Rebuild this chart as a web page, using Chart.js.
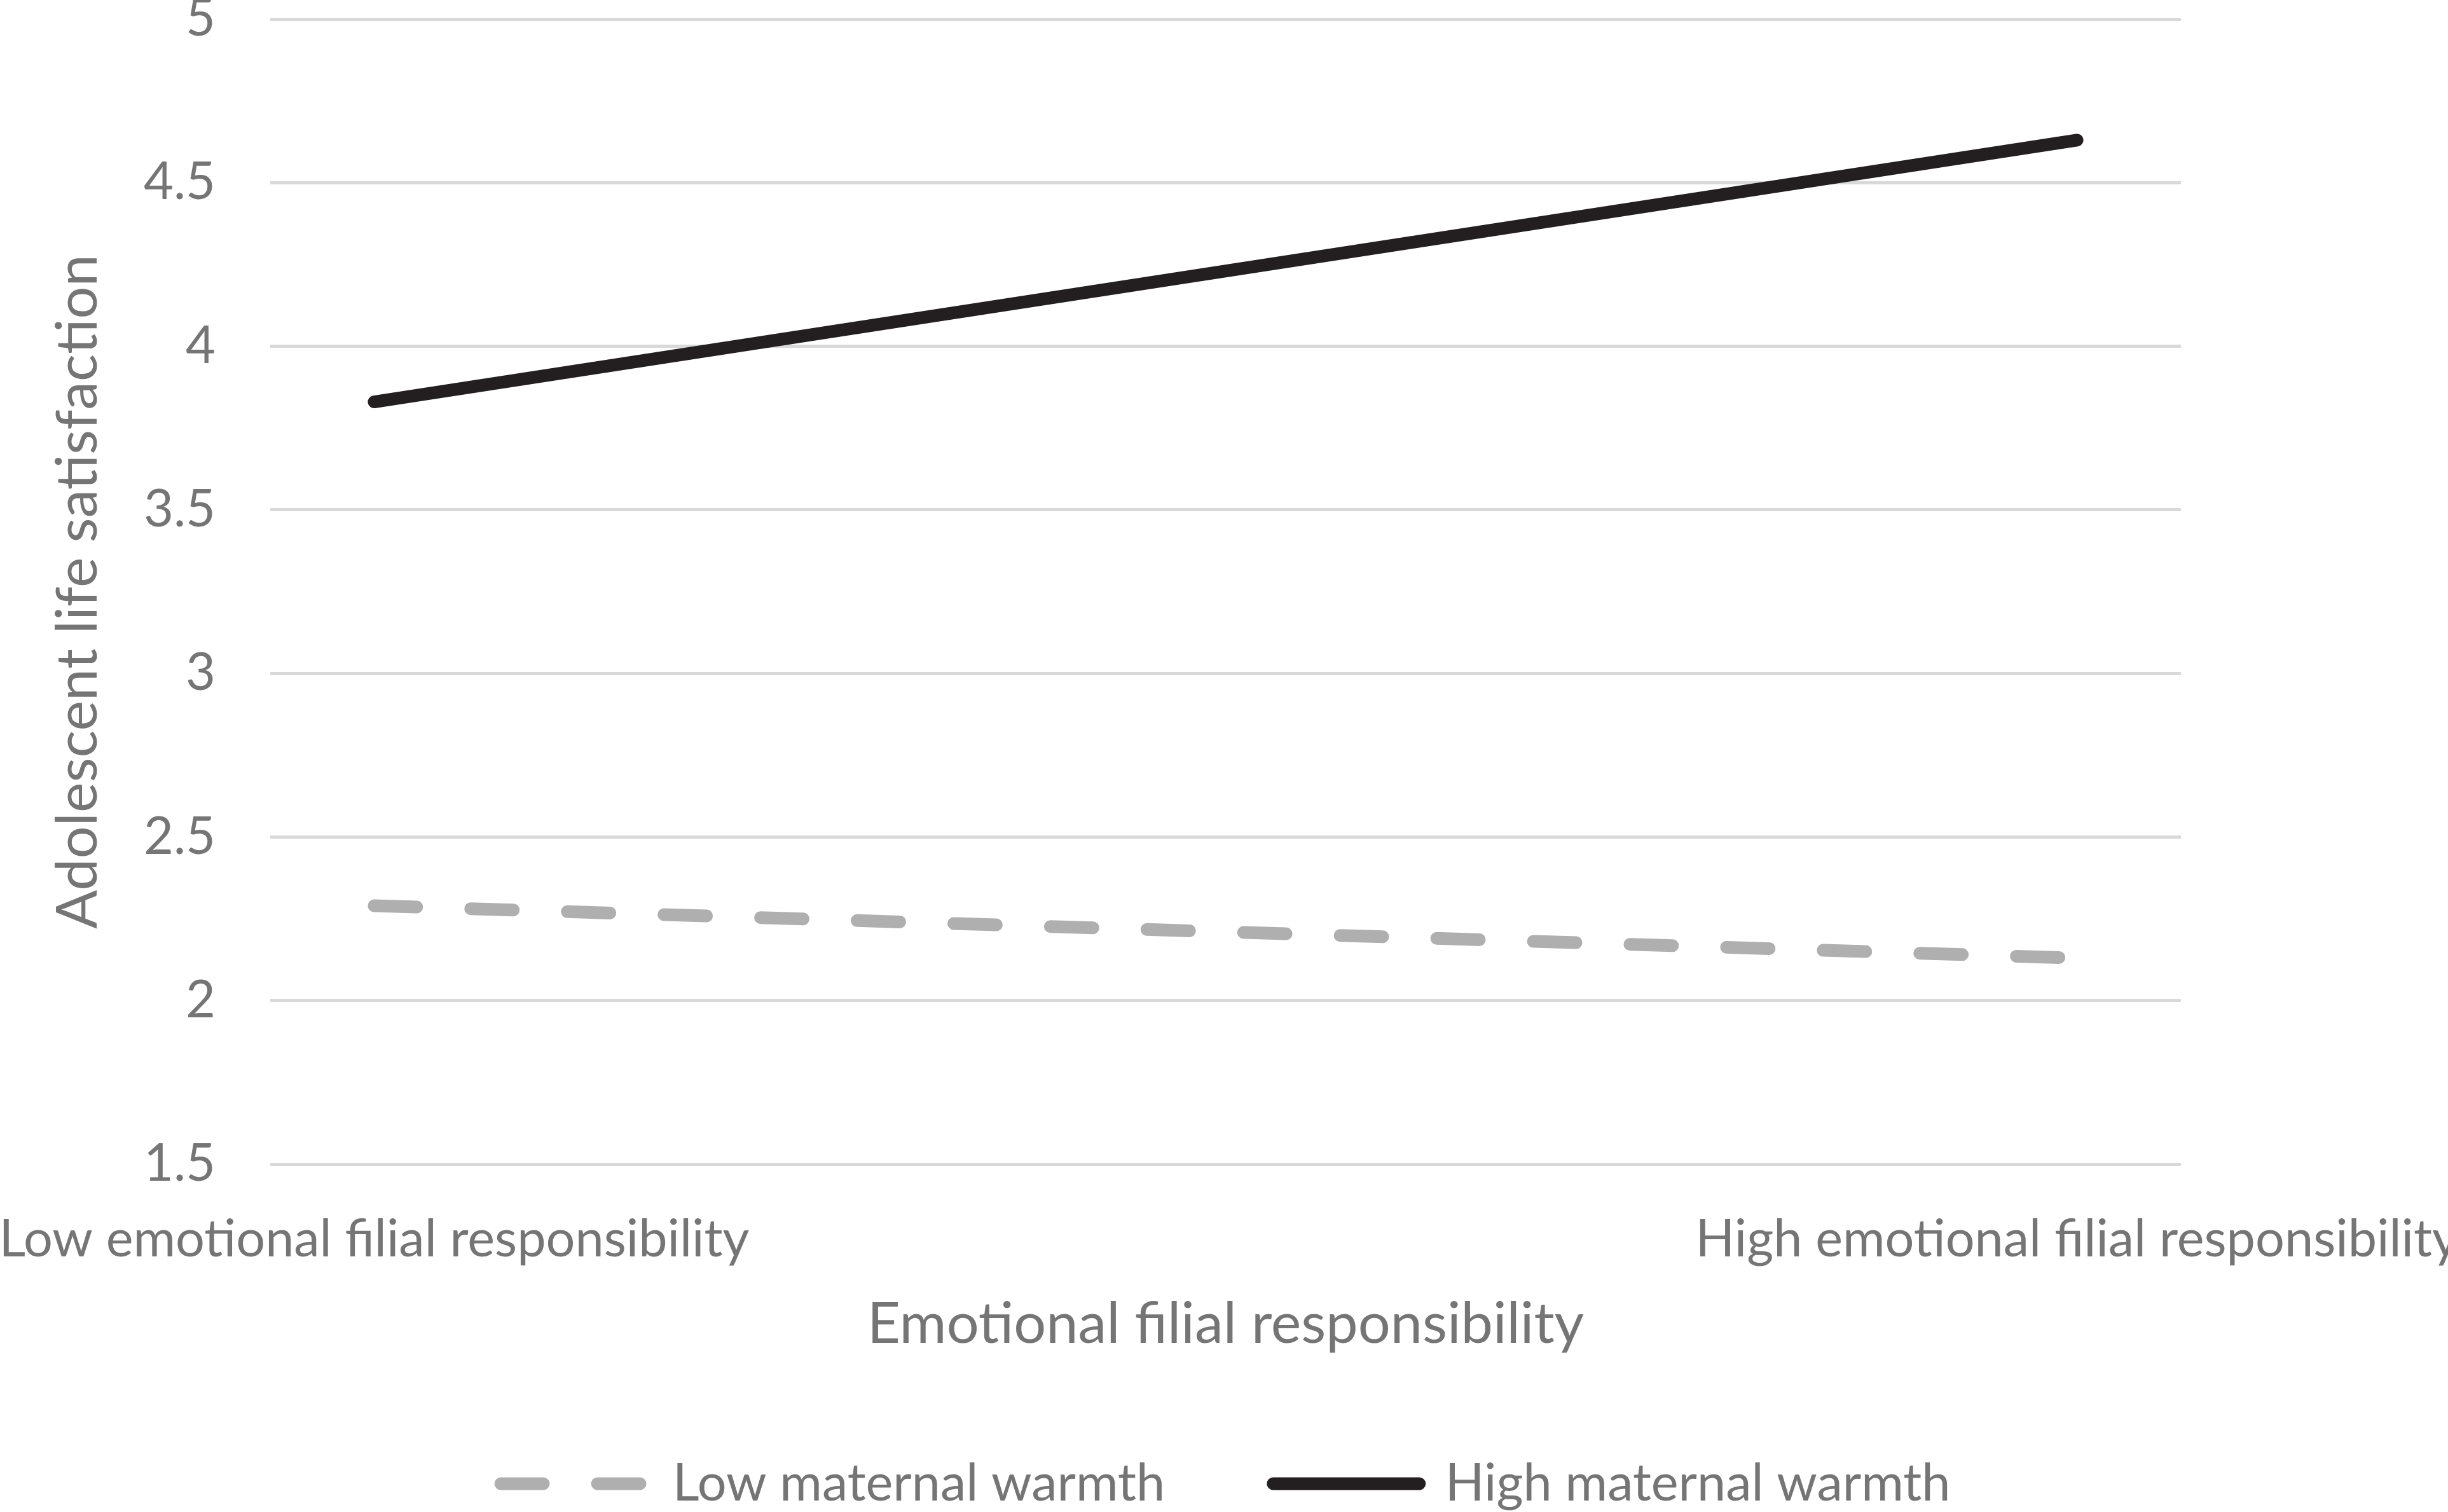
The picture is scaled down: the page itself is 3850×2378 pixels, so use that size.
<!DOCTYPE html>
<html>
<head>
<meta charset="utf-8">
<script src="https://cdn.jsdelivr.net/npm/chart.js@4"></script>
<style>
  html, body { margin: 0; padding: 0; background: #fff; overflow: hidden; }
  canvas { display: block; }
</style>
</head>
<body>
<canvas id="chart" width="3850" height="2378"></canvas>
<script>
// x positions 0 and 1 are the two levels of filial responsibility
let categories = ["Low emotional filial responsibility", "High emotional filial responsibility"];
let lowWarmth = [2.29, 2.13];
let highWarmth = [3.83, 4.63];
let yTicks = [1.5, 2, 2.5, 3, 3.5, 4, 4.5, 5];

let textGray = "#757575";

function toPoints(values) {
    return values.map((v, i) => ({ x: i, y: v }));
}

Chart.defaults.font.family = "Lato";
Chart.defaults.color = textGray;

let ctx = document.getElementById("chart").getContext("2d");

let chart = new Chart(ctx, {
    type: "line",
    data: {
        datasets: [
            {
                label: "Low maternal warmth",
                data: toPoints(lowWarmth),
                borderColor: "#afafaf",
                borderWidth: 20,
                borderDash: [67, 85],
                borderCapStyle: "round",
                pointRadius: 0,
                tension: 0
            },
            {
                label: "High maternal warmth",
                data: toPoints(highWarmth),
                borderColor: "#231f20",
                borderWidth: 20,
                borderCapStyle: "round",
                pointRadius: 0,
                tension: 0
            }
        ]
    },
    options: {
        responsive: false,
        devicePixelRatio: 1,
        animation: false,
        layout: {
            padding: { left: 0, right: 420, top: 30, bottom: -6 }
        },
        plugins: {
            tooltip: { enabled: false },
            legend: {
                position: "bottom",
                fullSize: false,
                labels: {
                    usePointStyle: true,
                    pointStyleWidth: 230,
                    boxHeight: 20,
                    padding: 170,
                    color: textGray,
                    font: { size: 81 },
                    generateLabels: (c) => c.data.datasets.map((ds, i) => ({
                        text: ds.label,
                        fillStyle: ds.borderColor,
                        strokeStyle: ds.borderColor,
                        fontColor: textGray,
                        lineWidth: ds.borderWidth,
                        lineDash: ds.borderDash || [],
                        lineCap: "round",
                        pointStyle: "line",
                        hidden: false,
                        datasetIndex: i
                    }))
                }
            }
        },
        scales: {
            x: {
                type: "linear",
                min: -0.061,
                max: 1.061,
                grid: { display: false },
                border: { display: false },
                ticks: {
                    autoSkip: false,
                    maxRotation: 0,
                    padding: 62,
                    color: textGray,
                    font: { size: 81 },
                    callback: (v) => categories[v]
                },
                afterBuildTicks: (scale) => {
                    scale.ticks = categories.map((c, i) => ({ value: i }));
                },
                afterFit: (scale) => {
                    scale.height = 292;
                    scale.paddingLeft = 0;
                    scale.paddingRight = 0;
                },
                title: {
                    display: true,
                    text: "Emotional filial responsibility",
                    color: textGray,
                    font: { size: 90 },
                    padding: { top: 0, bottom: -14 }
                }
            },
            y: {
                min: 1.5,
                max: 5,
                grid: {
                    color: "#d9d9d9",
                    lineWidth: 5,
                    drawTicks: false
                },
                border: { display: false },
                ticks: {
                    padding: 86,
                    color: textGray,
                    font: { size: 81 },
                    callback: (v) => String(v)
                },
                afterBuildTicks: (scale) => {
                    scale.ticks = yTicks.map(v => ({ value: v }));
                },
                afterFit: (scale) => {
                    scale.width = 425;
                    scale.paddingTop = 0;
                    scale.paddingBottom = 0;
                },
                title: {
                    display: true,
                    text: "Adolescent life satisfaction",
                    color: textGray,
                    font: { size: 90 },
                    padding: { top: 69, bottom: 0 }
                }
            }
        }
    }
});
</script>
</body>
</html>
